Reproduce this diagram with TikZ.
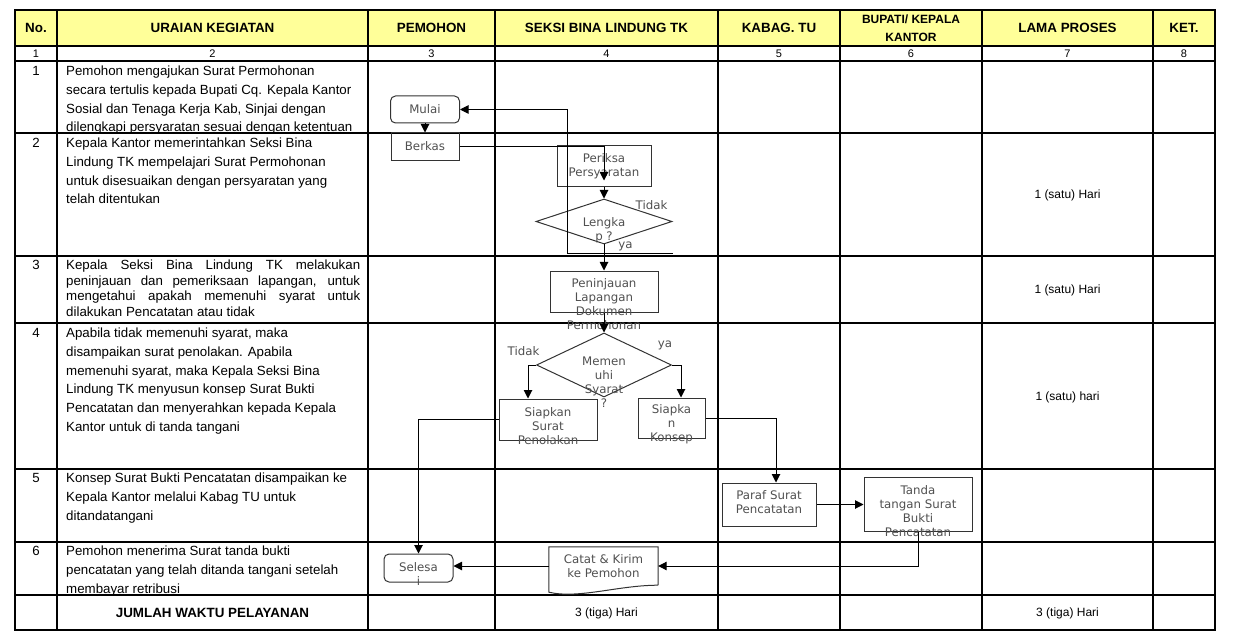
\documentclass[tikz,border=0pt]{standalone}
\usepackage{fontspec}
\setmainfont{Liberation Sans}
\newfontfamily\flowfont{DejaVu Sans}
\usetikzlibrary{positioning}
\usetikzlibrary{shapes.geometric}
\usetikzlibrary{calc}
\usetikzlibrary{arrows.meta}
\definecolor{headyellow}{RGB}{255,255,153}
\definecolor{flowgray}{RGB}{80,80,80}

\begin{document}
\begin{tikzpicture}[x=1pt, y=-1pt,
  tabline/.style = {line width=1.5pt, line cap=rect},
  head/.style = {font=\bfseries\fontsize{13.4}{16}\selectfont, inner sep=0pt},
  num/.style = {font=\fontsize{11}{13}\selectfont, inner sep=0pt},
  rownum/.style = {font=\fontsize{13.3}{16}\selectfont, inner sep=0pt},
  dur/.style = {font=\fontsize{12}{14}\selectfont, inner sep=0pt},
  desc/.style = {font=\fontsize{13.3}{18.7}\selectfont, align=left, anchor=north west, inner sep=0pt},
  box/.style = {draw=black!80, line width=1pt, rectangle, inner sep=0pt},
  term/.style = {box, rounded corners=5pt},
  decide/.style = {draw=black!80, line width=1pt, diamond, inner sep=0pt},
  ftxt/.style = {font=\flowfont\fontsize{11.8}{14}\selectfont, text=flowgray, align=center, inner sep=0pt},
  flow/.style = {line width=1pt, -{Triangle[length=8.5pt,width=8.5pt]}}]
\useasboundingbox (0,0) rectangle (1252,644);

% table grid
\fill[headyellow] (15,10) rectangle (1215,46);
\foreach \x in {15,57,368,495,718,840,982,1153,1215}
  \draw[tabline] (\x,10) -- (\x,630);
\foreach \y in {10,46,61,133,256,323,469,542,595,630}
  \draw[tabline] (15,\y) -- (1215,\y);

% column heads
\foreach \x/\t [count=\i] in {36/No., 212.5/URAIAN KEGIATAN, 431.5/PEMOHON, 606.5/SEKSI BINA LINDUNG TK, 779/KABAG. TU}
  \node[head] (h\i) at (\x,28) {\t};
\node[head, align=center, font=\bfseries\fontsize{12}{18}\selectfont] (h6) at (911,28) {BUPATI/ KEPALA\\KANTOR};
\node[head] (h7) at (1067.5,28) {LAMA PROSES};
\node[head] (h8) at (1184,28) {KET.};
\foreach \x [count=\i] in {36,212.5,431.5,606.5,779,911,1067.5,1184}
  \node[num] (n\i) at (\x,53.5) {\i};

% steps
\foreach \y [count=\i] in {71,143,265,333,478,551}
  \node[rownum] (r\i) at (36,\y) {\i};
\node[desc] (d1) at (66,66) {Pemohon mengajukan Surat Permohonan\\secara tertulis kepada Bupati Cq. Kepala Kantor\\Sosial dan Tenaga Kerja Kab, Sinjai dengan\\dilengkapi persyaratan sesuai dengan ketentuan};
\node[desc] (d2) at (66,138) {Kepala Kantor memerintahkan Seksi Bina\\Lindung TK mempelajari Surat Permohonan\\untuk disesuaikan dengan persyaratan yang\\telah ditentukan};
\node[desc, text width=294, align=justify, font=\fontsize{13.3}{15.5}\selectfont] (d3) at (66,260) {Kepala Seksi Bina Lindung TK melakukan\linebreak peninjauan dan pemeriksaan lapangan, untuk\linebreak mengetahui apakah memenuhi syarat untuk\linebreak dilakukan Pencatatan atau tidak};
\node[desc] (d4) at (66,328) {Apabila tidak memenuhi syarat, maka\\disampaikan surat penolakan. Apabila\\memenuhi syarat, maka Kepala Seksi Bina\\Lindung TK menyusun konsep Surat Bukti\\Pencatatan dan menyerahkan kepada Kepala\\Kantor untuk di tanda tangani};
\node[desc] (d5) at (66,473) {Konsep Surat Bukti Pencatatan disampaikan ke\\Kepala Kantor melalui Kabag TU untuk\\ditandatangani};
\node[desc] (d6) at (66,546) {Pemohon menerima Surat tanda bukti\\pencatatan yang telah ditanda tangani setelah\\membayar retribusi};

% durations
\node[dur] (t2) at (1067.5,195) {1 (satu) Hari};
\node[dur] (t3) at (1067.5,290) {1 (satu) Hari};
\node[dur] (t4) at (1067.5,397) {1 (satu) hari};
\node[head] (jml) at (212.5,613) {JUMLAH WAKTU PELAYANAN};
\node[dur] (tseksi) at (606.5,613) {3 (tiga) Hari};
\node[dur] (ttotal) at (1067.5,613) {3 (tiga) Hari};

% flow shapes
\node[term, minimum width=69, minimum height=27, label={[ftxt]center:Mulai}] (mulai) at (425,109.5) {};
\node[box, minimum width=68, minimum height=28, label={[ftxt,yshift=1pt]center:Berkas}] (berkas) at (425,147) {};
\node[box, minimum width=94, minimum height=41, label={[ftxt]center:{Periksa\\Persyaratan}}] (periksa) at (604,166.5) {};
\node[decide, minimum width=136, minimum height=45, label={[ftxt,yshift=-8.5pt]center:{Lengka\\p ?}}] (lengkap) at (604,221.5) {};
\node[box, minimum width=108, minimum height=41, label={[ftxt,yshift=-12.5pt]center:{Peninjauan\\Lapangan\\Dokumen\\Permohonan}}] (tinjau) at (604,291.5) {};
\node[decide, minimum width=135, minimum height=64, label={[ftxt,yshift=-17.5pt]center:{Memen\\uhi\\Syarat\\?}}] (syarat) at (604,365) {};
\node[box, minimum width=98, minimum height=41, label={[ftxt,yshift=-6.5pt]center:{Siapkan\\Surat\\Penolakan}}] (tolak) at (548,419.5) {};
\node[box, minimum width=67, minimum height=40, label={[ftxt,yshift=-6pt]center:{Siapka\\n\\Konsep}}] (konsep) at (671.5,418) {};
\node[box, minimum width=94, minimum height=43, label={[ftxt,yshift=2.5pt]center:{Paraf Surat\\Pencatatan}}] (paraf) at (769,504.5) {};
\node[box, minimum width=108, minimum height=54, label={[ftxt,yshift=-7pt]center:{Tanda\\tangan Surat\\Bukti\\Pencatatan}}] (tanda) at (918,504) {};
\node[inner sep=0pt, minimum width=109, minimum height=38, label={[ftxt]center:{Catat \& Kirim\\ke Pemohon}}] (catat) at (603.5,566) {};
\draw[draw=black!80, line width=1pt] (catat.south east) -- (catat.north east) -- (catat.north west)
  -- ($(catat.south west)+(0,7)$) .. controls +(30,7) and +(-40,0) .. (catat.south east);
\node[term, minimum width=69, minimum height=28, label={[ftxt,yshift=-6pt]center:{Selesa\\i}}] (selesai) at (418.5,568) {};

% branch labels
\node[ftxt] (tdk1) at (651.5,205) {Tidak};
\node[ftxt] (ya1) at (625.5,246) {ya};
\node[ftxt] (tdk2) at (523.5,351) {Tidak};
\node[ftxt] (ya2) at (665,345) {ya};

% connectors
\coordinate (tidak1) at ($(lengkap.east)+(0,32.5)$);
\coordinate (balik) at ($(tidak1)+(-105,0)$);
\draw[flow] (mulai) -- (berkas);
\draw[flow] (berkas.east) -| ($(periksa.south)+(0,-7)$);
\draw[flow] (periksa) -- (lengkap);
\draw[flow] (tidak1) -- (balik) |- (mulai.east);
\draw[flow] (lengkap) -- (tinjau);
\draw[flow] (tinjau) -- (syarat);
\draw[flow] (syarat.west) -| ($(tolak.north)+(-20,0)$);
\draw[flow] (syarat.east) -| ($(konsep.north)+(9.5,0)$);
\draw[flow] (tolak.west) -| (selesai.north);
\draw[flow] (konsep.east) -| ($(paraf.north)+(7,0)$);
\draw[flow] (paraf.east) -- (paraf.east -| tanda.west);
\draw[flow] (tanda.south) |- (catat.east);
\draw[flow] (catat.west) -- (catat.west -| selesai.east);
\end{tikzpicture}
\end{document}
